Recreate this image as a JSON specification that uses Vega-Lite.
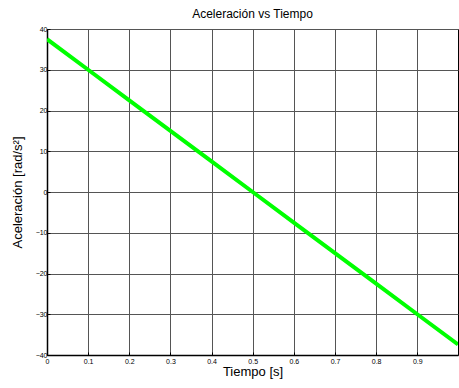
{
  "$schema": "https://vega.github.io/schema/vega-lite/v6.json",
  "width": 411,
  "height": 326,
  "autosize": {"type": "none"},
  "padding": {"left": 47, "top": 29, "right": 1, "bottom": 33},
  "background": "white",
  "title": {"text": "Aceleración vs Tiempo", "font": "Liberation Sans", "fontSize": 12, "fontWeight": "normal", "color": "black", "offset": 4},
  "config": {
    "view": {"stroke": "black", "strokeWidth": 1},
    "axis": {
      "labelFont": "Liberation Sans",
      "labelFontSize": 7,
      "labelColor": "black",
      "titleFont": "Liberation Sans",
      "titleFontSize": 13,
      "titleFontWeight": "normal",
      "titleColor": "black",
      "domainColor": "black",
      "domainWidth": 1.5,
      "gridColor": "#555555",
      "gridWidth": 1,
      "gridOpacity": 1,
      "tickColor": "black",
      "tickSize": -3,
      "labelPadding": 3
    }
  },
  "data": {
    "values": [
      {"t": 0, "a": 37.5},
      {"t": 0.1, "a": 30},
      {"t": 0.2, "a": 22.5},
      {"t": 0.3, "a": 15},
      {"t": 0.4, "a": 7.5},
      {"t": 0.5, "a": 0},
      {"t": 0.6, "a": -7.5},
      {"t": 0.7, "a": -15},
      {"t": 0.8, "a": -22.5},
      {"t": 0.9, "a": -30},
      {"t": 0.999, "a": -37.4}
    ]
  },
  "mark": {"type": "line", "color": "#00FF00", "strokeWidth": 4, "clip": true},
  "encoding": {
    "x": {
      "field": "t", "type": "quantitative",
      "scale": {"domain": [0, 0.999], "nice": false},
      "axis": {"values": [0, 0.1, 0.2, 0.3, 0.4, 0.5, 0.6, 0.7, 0.8, 0.9], "format": "~g", "title": "Tiempo [s]", "titlePadding": 1, "labelPadding": 5, "labelFlush": false}
    },
    "y": {
      "field": "a", "type": "quantitative",
      "scale": {"domain": [-40, 40], "nice": false},
      "axis": {"values": [-40, -30, -20, -10, 0, 10, 20, 30, 40], "title": "Aceleración [rad/s²]", "titlePadding": 11, "labelFlush": false}
    }
  }
}
